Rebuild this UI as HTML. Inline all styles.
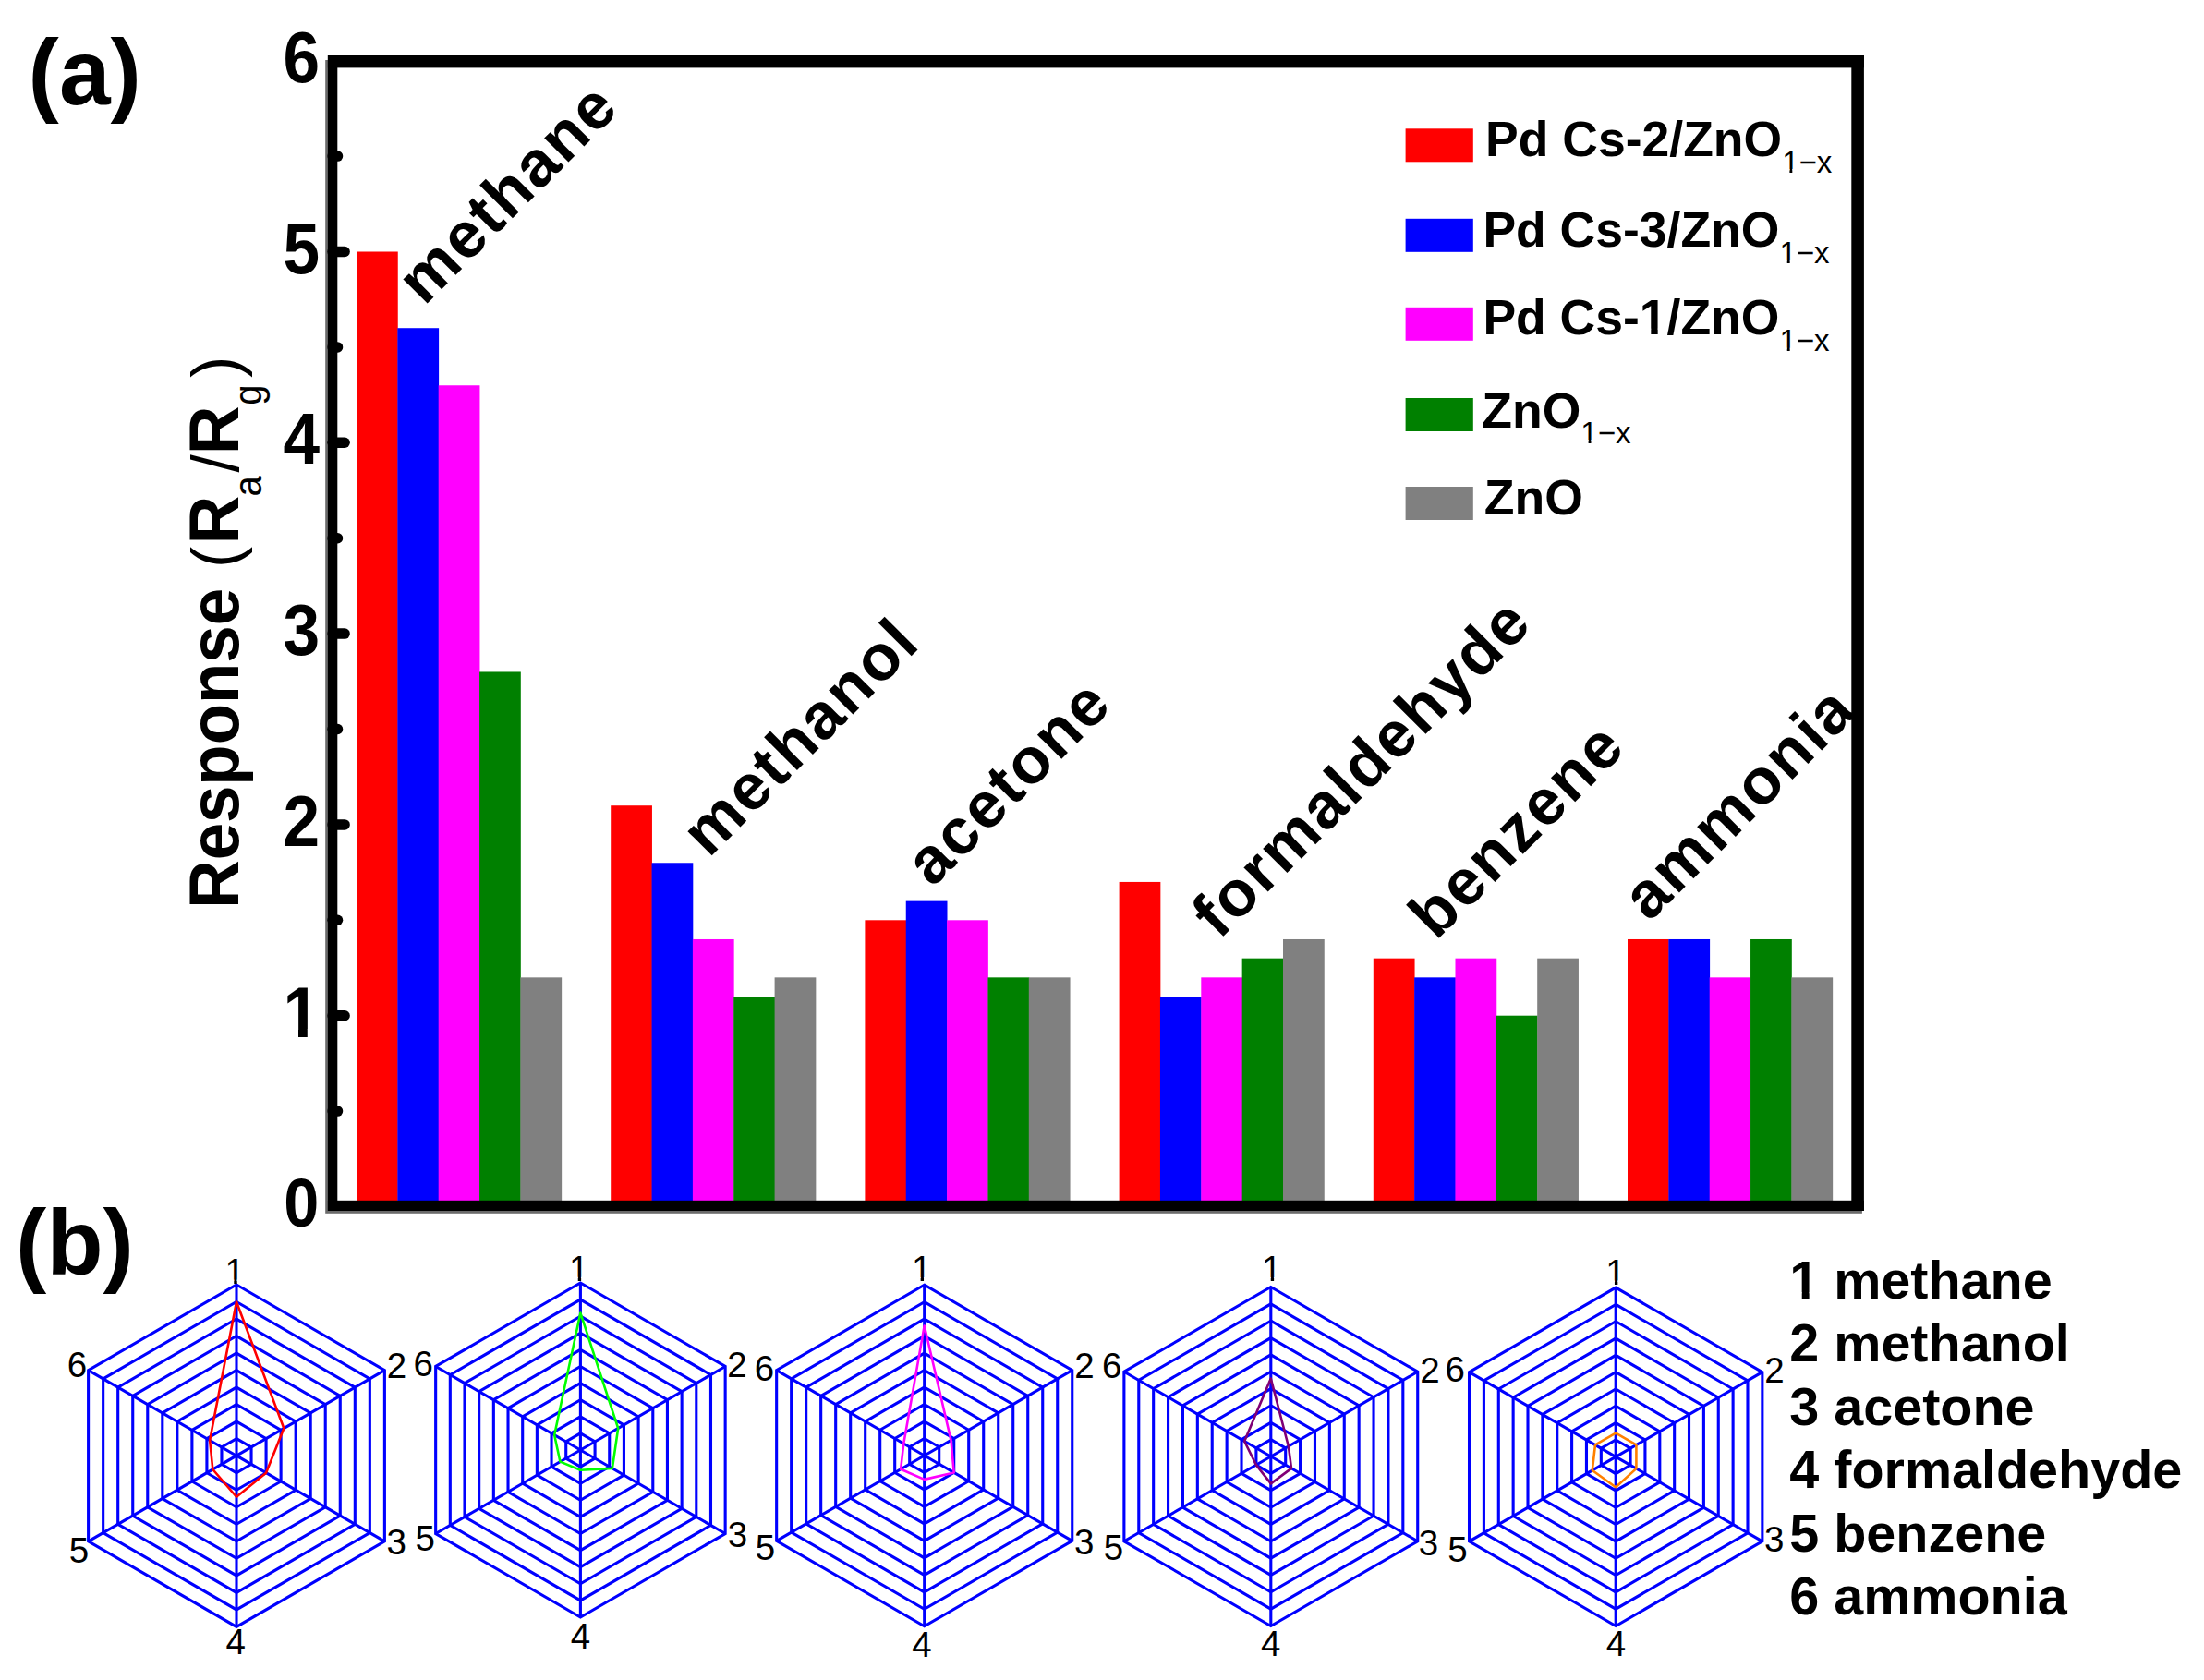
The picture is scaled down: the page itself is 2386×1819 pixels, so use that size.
<!DOCTYPE html>
<html><head><meta charset="utf-8"><title>Gas sensing response of Pd Cs/ZnO sensors</title>
<style>html,body{margin:0;padding:0;background:#fff;overflow:hidden}svg{display:block}</style></head>
<body><svg width="2386" height="1819" viewBox="0 0 2386 1819">
<defs><clipPath id="k1" clipPathUnits="userSpaceOnUse"><rect x="301.39" y="1037.23" width="71.23" height="77.00"/><rect x="323.01" y="1113.93" width="9.77" height="10.77"/></clipPath><clipPath id="k2" clipPathUnits="userSpaceOnUse"><rect x="1924.13" y="147.00" width="33.00" height="35.93"/><rect x="1937.42" y="182.63" width="2.92" height="5.97"/></clipPath><clipPath id="k3" clipPathUnits="userSpaceOnUse"><rect x="1921.43" y="245.10" width="33.00" height="35.93"/><rect x="1934.72" y="280.73" width="2.92" height="5.97"/></clipPath><clipPath id="k4" clipPathUnits="userSpaceOnUse"><rect x="1769.83" y="298.20" width="53.50" height="57.54"/><rect x="1787.32" y="355.44" width="7.34" height="8.96"/></clipPath><clipPath id="k5" clipPathUnits="userSpaceOnUse"><rect x="1921.43" y="340.80" width="33.00" height="35.93"/><rect x="1934.72" y="376.43" width="2.92" height="5.97"/></clipPath><clipPath id="k6" clipPathUnits="userSpaceOnUse"><rect x="1706.27" y="440.10" width="33.00" height="35.93"/><rect x="1719.57" y="475.73" width="2.92" height="5.97"/></clipPath><clipPath id="k7" clipPathUnits="userSpaceOnUse"><rect x="238.61" y="1343.39" width="38.50" height="42.12"/><rect x="253.29" y="1385.22" width="3.40" height="6.38"/></clipPath><clipPath id="k8" clipPathUnits="userSpaceOnUse"><rect x="611.06" y="1340.54" width="38.50" height="42.12"/><rect x="625.74" y="1382.37" width="3.40" height="6.38"/></clipPath><clipPath id="k9" clipPathUnits="userSpaceOnUse"><rect x="981.96" y="1340.99" width="38.50" height="42.12"/><rect x="996.64" y="1382.82" width="3.40" height="6.38"/></clipPath><clipPath id="k10" clipPathUnits="userSpaceOnUse"><rect x="1361.06" y="1340.94" width="38.50" height="42.12"/><rect x="1375.74" y="1382.77" width="3.40" height="6.38"/></clipPath><clipPath id="k11" clipPathUnits="userSpaceOnUse"><rect x="1733.26" y="1344.44" width="38.50" height="42.12"/><rect x="1747.94" y="1386.27" width="3.40" height="6.38"/></clipPath><clipPath id="k12" clipPathUnits="userSpaceOnUse"><rect x="1932.30" y="1337.20" width="57.50" height="61.93"/><rect x="1950.72" y="1398.83" width="7.89" height="9.37"/></clipPath></defs>
<rect width="2386" height="1819" fill="#fff"/>
<g><rect x="386.00" y="272.50" width="44.75" height="1034.00" fill="#ff0000"/><rect x="430.35" y="355.22" width="44.75" height="951.28" fill="#0000ff"/><rect x="474.70" y="417.26" width="44.75" height="889.24" fill="#ff00ff"/><rect x="519.05" y="727.46" width="44.75" height="579.04" fill="#008000"/><rect x="563.40" y="1058.34" width="44.75" height="248.16" fill="#808080"/><rect x="661.20" y="872.22" width="44.75" height="434.28" fill="#ff0000"/><rect x="705.55" y="934.26" width="44.75" height="372.24" fill="#0000ff"/><rect x="749.90" y="1016.98" width="44.75" height="289.52" fill="#ff00ff"/><rect x="794.25" y="1079.02" width="44.75" height="227.48" fill="#008000"/><rect x="838.60" y="1058.34" width="44.75" height="248.16" fill="#808080"/><rect x="936.40" y="996.30" width="44.75" height="310.20" fill="#ff0000"/><rect x="980.75" y="975.62" width="44.75" height="330.88" fill="#0000ff"/><rect x="1025.10" y="996.30" width="44.75" height="310.20" fill="#ff00ff"/><rect x="1069.45" y="1058.34" width="44.75" height="248.16" fill="#008000"/><rect x="1113.80" y="1058.34" width="44.75" height="248.16" fill="#808080"/><rect x="1211.60" y="954.94" width="44.75" height="351.56" fill="#ff0000"/><rect x="1255.95" y="1079.02" width="44.75" height="227.48" fill="#0000ff"/><rect x="1300.30" y="1058.34" width="44.75" height="248.16" fill="#ff00ff"/><rect x="1344.65" y="1037.66" width="44.75" height="268.84" fill="#008000"/><rect x="1389.00" y="1016.98" width="44.75" height="289.52" fill="#808080"/><rect x="1486.80" y="1037.66" width="44.75" height="268.84" fill="#ff0000"/><rect x="1531.15" y="1058.34" width="44.75" height="248.16" fill="#0000ff"/><rect x="1575.50" y="1037.66" width="44.75" height="268.84" fill="#ff00ff"/><rect x="1619.85" y="1099.70" width="44.75" height="206.80" fill="#008000"/><rect x="1664.20" y="1037.66" width="44.75" height="268.84" fill="#808080"/><rect x="1762.00" y="1016.98" width="44.75" height="289.52" fill="#ff0000"/><rect x="1806.35" y="1016.98" width="44.75" height="289.52" fill="#0000ff"/><rect x="1850.70" y="1058.34" width="44.75" height="248.16" fill="#ff00ff"/><rect x="1895.05" y="1016.98" width="44.75" height="289.52" fill="#008000"/><rect x="1939.40" y="1058.34" width="44.75" height="248.16" fill="#808080"/></g>
<g><rect x="352.2" y="65" width="2.8" height="1248.8" fill="#6b6b6b"/><rect x="354.9" y="60.0" width="1663.0" height="13.4" fill="#000"/><rect x="354.9" y="60.0" width="10.4" height="1251.0" fill="#000"/><rect x="2004.3" y="60.0" width="13.6" height="1251.0" fill="#000"/><rect x="354.9" y="1299.8" width="1663.0" height="11.2" fill="#000"/><rect x="354.9" y="1311.0" width="1661.0" height="2.8" fill="#6b6b6b"/></g>
<g stroke="#000" stroke-width="11.5" stroke-linecap="round"><line x1="360.1" y1="1203.10" x2="365.5" y2="1203.10"/><line x1="360.1" y1="1099.70" x2="373.1" y2="1099.70"/><line x1="360.1" y1="996.30" x2="365.5" y2="996.30"/><line x1="360.1" y1="892.90" x2="373.1" y2="892.90"/><line x1="360.1" y1="789.50" x2="365.5" y2="789.50"/><line x1="360.1" y1="686.10" x2="373.1" y2="686.10"/><line x1="360.1" y1="582.70" x2="365.5" y2="582.70"/><line x1="360.1" y1="479.30" x2="373.1" y2="479.30"/><line x1="360.1" y1="375.90" x2="365.5" y2="375.90"/><line x1="360.1" y1="272.50" x2="373.1" y2="272.50"/><line x1="360.1" y1="169.10" x2="365.5" y2="169.10"/></g>
<text transform="translate(345.2,1327.80) scale(0.925,1)" text-anchor="end" style="font-family:'Liberation Sans',Arial,sans-serif;font-weight:bold;font-size:74px">0</text>
<g clip-path="url(#k1)"><text transform="translate(306.39,1122.70) scale(0.925,1)" style="font-family:'Liberation Sans',Arial,sans-serif;font-weight:bold;font-size:77px">1</text></g>
<text transform="translate(346,915.90) scale(0.925,1)" text-anchor="end" style="font-family:'Liberation Sans',Arial,sans-serif;font-weight:bold;font-size:77px">2</text>
<text transform="translate(346,709.10) scale(0.925,1)" text-anchor="end" style="font-family:'Liberation Sans',Arial,sans-serif;font-weight:bold;font-size:77px">3</text>
<text transform="translate(346,502.30) scale(0.925,1)" text-anchor="end" style="font-family:'Liberation Sans',Arial,sans-serif;font-weight:bold;font-size:77px">4</text>
<text transform="translate(346,295.50) scale(0.925,1)" text-anchor="end" style="font-family:'Liberation Sans',Arial,sans-serif;font-weight:bold;font-size:77px">5</text>
<text transform="translate(346,88.70) scale(0.925,1)" text-anchor="end" style="font-family:'Liberation Sans',Arial,sans-serif;font-weight:bold;font-size:77px">6</text>
<g transform="translate(258.0,0) rotate(-90) scale(0.955,1)"><text x="-1030.12" y="0" style="font-family:'Liberation Sans',Arial,sans-serif;font-weight:bold;font-size:76px;white-space:pre">Response </text><text x="-643.98" y="0" style="font-family:'Liberation Sans',Arial,sans-serif;font-weight:normal;font-size:73px;white-space:pre">(</text><text x="-616.96" y="0" style="font-family:'Liberation Sans',Arial,sans-serif;font-weight:bold;font-size:76px;white-space:pre">R</text><text x="-562.72" y="24.5" style="font-family:'Liberation Sans',Arial,sans-serif;font-weight:normal;font-size:42px;white-space:pre">a</text><text x="-535.50" y="0" style="font-family:'Liberation Sans',Arial,sans-serif;font-weight:normal;font-size:73px;white-space:pre">/</text><text x="-515.18" y="0" style="font-family:'Liberation Sans',Arial,sans-serif;font-weight:bold;font-size:76px;white-space:pre">R</text><text x="-459.48" y="24.5" style="font-family:'Liberation Sans',Arial,sans-serif;font-weight:normal;font-size:42px;white-space:pre">g</text><text x="-428.27" y="0" style="font-family:'Liberation Sans',Arial,sans-serif;font-weight:normal;font-size:73px;white-space:pre">)</text></g>
<text transform="translate(459.2,331.9) rotate(-45)" style="font-family:'Liberation Sans',Arial,sans-serif;font-weight:bold;font-size:70px;letter-spacing:2px">methane</text>
<text transform="translate(767.2,929.8) rotate(-45)" style="font-family:'Liberation Sans',Arial,sans-serif;font-weight:bold;font-size:70px;letter-spacing:2px">methanol</text>
<text transform="translate(1009.5,961.7) rotate(-45)" style="font-family:'Liberation Sans',Arial,sans-serif;font-weight:bold;font-size:70px;letter-spacing:2px">acetone</text>
<text transform="translate(1319.7,1018.6) rotate(-45)" style="font-family:'Liberation Sans',Arial,sans-serif;font-weight:bold;font-size:70px;letter-spacing:2px">formaldehyde</text>
<text transform="translate(1554.5,1019.0) rotate(-45)" style="font-family:'Liberation Sans',Arial,sans-serif;font-weight:bold;font-size:70px;letter-spacing:2px">benzene</text>
<text transform="translate(1785.6,999.0) rotate(-45)" style="font-family:'Liberation Sans',Arial,sans-serif;font-weight:bold;font-size:70px;letter-spacing:2px">ammonia</text>
<rect x="1521.6" y="139.3" width="73.2" height="36.0" fill="#ff0000"/>
<text x="1608.1" y="168.6" style="font-family:'Liberation Sans',Arial,sans-serif;font-weight:bold;font-size:53.5px">Pd Cs-2/ZnO</text>
<text x="1929.13" y="186.60" clip-path="url(#k2)" style="font-family:'Liberation Sans',Arial,sans-serif;font-weight:normal;font-size:33px">1</text>
<text x="1947.48" y="186.60" style="font-family:'Liberation Sans',Arial,sans-serif;font-weight:normal;font-size:33px">−x</text>
<rect x="1521.6" y="236.8" width="73.2" height="36.0" fill="#0000ff"/>
<text x="1605.4" y="266.7" style="font-family:'Liberation Sans',Arial,sans-serif;font-weight:bold;font-size:53.5px">Pd Cs-3/ZnO</text>
<text x="1926.43" y="284.70" clip-path="url(#k3)" style="font-family:'Liberation Sans',Arial,sans-serif;font-weight:normal;font-size:33px">1</text>
<text x="1944.78" y="284.70" style="font-family:'Liberation Sans',Arial,sans-serif;font-weight:normal;font-size:33px">−x</text>
<rect x="1521.6" y="332.8" width="73.2" height="36.0" fill="#ff00ff"/>
<text x="1605.4" y="362.4" style="font-family:'Liberation Sans',Arial,sans-serif;font-weight:bold;font-size:53.5px;white-space:pre">Pd Cs-</text>
<text x="1774.83" y="362.4" clip-path="url(#k4)" style="font-family:'Liberation Sans',Arial,sans-serif;font-weight:bold;font-size:53.5px">1</text>
<text x="1804.59" y="362.4" style="font-family:'Liberation Sans',Arial,sans-serif;font-weight:bold;font-size:53.5px">/ZnO</text>
<text x="1926.43" y="380.40" clip-path="url(#k5)" style="font-family:'Liberation Sans',Arial,sans-serif;font-weight:normal;font-size:33px">1</text>
<text x="1944.78" y="380.40" style="font-family:'Liberation Sans',Arial,sans-serif;font-weight:normal;font-size:33px">−x</text>
<rect x="1521.6" y="431.0" width="73.2" height="36.0" fill="#008000"/>
<text x="1604.3" y="462.7" style="font-family:'Liberation Sans',Arial,sans-serif;font-weight:bold;font-size:53.5px">ZnO</text>
<text x="1711.27" y="479.70" clip-path="url(#k6)" style="font-family:'Liberation Sans',Arial,sans-serif;font-weight:normal;font-size:33px">1</text>
<text x="1729.63" y="479.70" style="font-family:'Liberation Sans',Arial,sans-serif;font-weight:normal;font-size:33px">−x</text>
<rect x="1521.6" y="527.0" width="73.2" height="36.0" fill="#808080"/>
<text x="1606.8" y="556.5" style="font-family:'Liberation Sans',Arial,sans-serif;font-weight:bold;font-size:53.5px">ZnO</text>
<text x="30.6" y="113" style="font-family:'Liberation Sans',Arial,sans-serif;font-weight:bold;font-size:100px">(a)</text>
<text x="17.1" y="1380.4" style="font-family:'Liberation Sans',Arial,sans-serif;font-weight:bold;font-size:100px">(b)</text>
<g fill="none" stroke="#0000ff" stroke-width="3.1"><polygon points="256.00,1557.68 272.04,1566.94 272.04,1585.46 256.00,1594.72 239.96,1585.46 239.96,1566.94"/><polygon points="256.00,1539.16 288.08,1557.68 288.08,1594.72 256.00,1613.24 223.92,1594.72 223.92,1557.68"/><polygon points="256.00,1520.64 304.12,1548.42 304.12,1603.98 256.00,1631.76 207.88,1603.98 207.88,1548.42"/><polygon points="256.00,1502.12 320.16,1539.16 320.16,1613.24 256.00,1650.28 191.84,1613.24 191.84,1539.16"/><polygon points="256.00,1483.60 336.19,1529.90 336.19,1622.50 256.00,1668.80 175.81,1622.50 175.81,1529.90"/><polygon points="256.00,1465.08 352.23,1520.64 352.23,1631.76 256.00,1687.32 159.77,1631.76 159.77,1520.64"/><polygon points="256.00,1446.56 368.27,1511.38 368.27,1641.02 256.00,1705.84 143.73,1641.02 143.73,1511.38"/><polygon points="256.00,1428.04 384.31,1502.12 384.31,1650.28 256.00,1724.36 127.69,1650.28 127.69,1502.12"/><polygon points="256.00,1409.52 400.35,1492.86 400.35,1659.54 256.00,1742.88 111.65,1659.54 111.65,1492.86"/><polygon points="256.00,1391.00 416.39,1483.60 416.39,1668.80 256.00,1761.40 95.61,1668.80 95.61,1483.60"/><line x1="256.00" y1="1576.20" x2="256.00" y2="1391.00"/><line x1="256.00" y1="1576.20" x2="416.39" y2="1483.60"/><line x1="256.00" y1="1576.20" x2="416.39" y2="1668.80"/><line x1="256.00" y1="1576.20" x2="256.00" y2="1761.40"/><line x1="256.00" y1="1576.20" x2="95.61" y2="1668.80"/><line x1="256.00" y1="1576.20" x2="95.61" y2="1483.60"/></g>
<polygon points="256.00,1409.52 307.32,1546.57 288.08,1594.72 256.00,1620.65 230.34,1591.02 227.13,1559.53" fill="none" stroke="#ff0000" stroke-width="2.6" stroke-linejoin="round"/>
<text x="243.61" y="1389.59" clip-path="url(#k7)" style="font-family:'Liberation Sans',Arial,sans-serif;font-weight:normal;font-size:38.5px">1</text>
<text x="418.64" y="1492.09" style="font-family:'Liberation Sans',Arial,sans-serif;font-weight:normal;font-size:38.5px">2</text>
<text x="418.41" y="1682.95" style="font-family:'Liberation Sans',Arial,sans-serif;font-weight:normal;font-size:38.5px">3</text>
<text x="244.42" y="1790.64" style="font-family:'Liberation Sans',Arial,sans-serif;font-weight:normal;font-size:38.5px">4</text>
<text x="74.68" y="1691.71" style="font-family:'Liberation Sans',Arial,sans-serif;font-weight:normal;font-size:38.5px">5</text>
<text x="72.81" y="1490.65" style="font-family:'Liberation Sans',Arial,sans-serif;font-weight:normal;font-size:38.5px">6</text>
<g fill="none" stroke="#0000ff" stroke-width="3.1"><polygon points="628.40,1551.90 644.08,1560.95 644.08,1579.05 628.40,1588.10 612.72,1579.05 612.72,1560.95"/><polygon points="628.40,1533.80 659.75,1551.90 659.75,1588.10 628.40,1606.20 597.05,1588.10 597.05,1551.90"/><polygon points="628.40,1515.70 675.43,1542.85 675.43,1597.15 628.40,1624.30 581.37,1597.15 581.37,1542.85"/><polygon points="628.40,1497.60 691.10,1533.80 691.10,1606.20 628.40,1642.40 565.70,1606.20 565.70,1533.80"/><polygon points="628.40,1479.50 706.78,1524.75 706.78,1615.25 628.40,1660.50 550.02,1615.25 550.02,1524.75"/><polygon points="628.40,1461.40 722.45,1515.70 722.45,1624.30 628.40,1678.60 534.35,1624.30 534.35,1515.70"/><polygon points="628.40,1443.30 738.13,1506.65 738.13,1633.35 628.40,1696.70 518.67,1633.35 518.67,1506.65"/><polygon points="628.40,1425.20 753.80,1497.60 753.80,1642.40 628.40,1714.80 503.00,1642.40 503.00,1497.60"/><polygon points="628.40,1407.10 769.48,1488.55 769.48,1651.45 628.40,1732.90 487.32,1651.45 487.32,1488.55"/><polygon points="628.40,1389.00 785.15,1479.50 785.15,1660.50 628.40,1751.00 471.65,1660.50 471.65,1479.50"/><line x1="628.40" y1="1570.00" x2="628.40" y2="1389.00"/><line x1="628.40" y1="1570.00" x2="785.15" y2="1479.50"/><line x1="628.40" y1="1570.00" x2="785.15" y2="1660.50"/><line x1="628.40" y1="1570.00" x2="628.40" y2="1751.00"/><line x1="628.40" y1="1570.00" x2="471.65" y2="1660.50"/><line x1="628.40" y1="1570.00" x2="471.65" y2="1479.50"/></g>
<polygon points="628.40,1421.58 669.16,1546.47 662.89,1589.91 628.40,1591.72 606.45,1582.67 600.18,1553.71" fill="none" stroke="#00ff00" stroke-width="2.6" stroke-linejoin="round"/>
<text x="616.06" y="1386.74" clip-path="url(#k8)" style="font-family:'Liberation Sans',Arial,sans-serif;font-weight:normal;font-size:38.5px">1</text>
<text x="787.19" y="1490.64" style="font-family:'Liberation Sans',Arial,sans-serif;font-weight:normal;font-size:38.5px">2</text>
<text x="787.66" y="1675.10" style="font-family:'Liberation Sans',Arial,sans-serif;font-weight:normal;font-size:38.5px">3</text>
<text x="617.87" y="1785.14" style="font-family:'Liberation Sans',Arial,sans-serif;font-weight:normal;font-size:38.5px">4</text>
<text x="449.58" y="1679.06" style="font-family:'Liberation Sans',Arial,sans-serif;font-weight:normal;font-size:38.5px">5</text>
<text x="447.56" y="1490.45" style="font-family:'Liberation Sans',Arial,sans-serif;font-weight:normal;font-size:38.5px">6</text>
<g fill="none" stroke="#0000ff" stroke-width="3.1"><polygon points="1000.70,1557.52 1016.70,1566.76 1016.70,1585.24 1000.70,1594.48 984.70,1585.24 984.70,1566.76"/><polygon points="1000.70,1539.04 1032.71,1557.52 1032.71,1594.48 1000.70,1612.96 968.69,1594.48 968.69,1557.52"/><polygon points="1000.70,1520.56 1048.71,1548.28 1048.71,1603.72 1000.70,1631.44 952.69,1603.72 952.69,1548.28"/><polygon points="1000.70,1502.08 1064.72,1539.04 1064.72,1612.96 1000.70,1649.92 936.68,1612.96 936.68,1539.04"/><polygon points="1000.70,1483.60 1080.72,1529.80 1080.72,1622.20 1000.70,1668.40 920.68,1622.20 920.68,1529.80"/><polygon points="1000.70,1465.12 1096.72,1520.56 1096.72,1631.44 1000.70,1686.88 904.68,1631.44 904.68,1520.56"/><polygon points="1000.70,1446.64 1112.73,1511.32 1112.73,1640.68 1000.70,1705.36 888.67,1640.68 888.67,1511.32"/><polygon points="1000.70,1428.16 1128.73,1502.08 1128.73,1649.92 1000.70,1723.84 872.67,1649.92 872.67,1502.08"/><polygon points="1000.70,1409.68 1144.74,1492.84 1144.74,1659.16 1000.70,1742.32 856.66,1659.16 856.66,1492.84"/><polygon points="1000.70,1391.20 1160.74,1483.60 1160.74,1668.40 1000.70,1760.80 840.66,1668.40 840.66,1483.60"/><line x1="1000.70" y1="1576.00" x2="1000.70" y2="1391.20"/><line x1="1000.70" y1="1576.00" x2="1160.74" y2="1483.60"/><line x1="1000.70" y1="1576.00" x2="1160.74" y2="1668.40"/><line x1="1000.70" y1="1576.00" x2="1000.70" y2="1760.80"/><line x1="1000.70" y1="1576.00" x2="840.66" y2="1668.40"/><line x1="1000.70" y1="1576.00" x2="840.66" y2="1483.60"/></g>
<polygon points="1000.70,1435.55 1029.51,1559.37 1032.71,1594.48 1000.70,1601.87 975.09,1590.78 978.29,1563.06" fill="none" stroke="#ff00ff" stroke-width="2.6" stroke-linejoin="round"/>
<text x="986.96" y="1387.19" clip-path="url(#k9)" style="font-family:'Liberation Sans',Arial,sans-serif;font-weight:normal;font-size:38.5px">1</text>
<text x="1163.29" y="1492.09" style="font-family:'Liberation Sans',Arial,sans-serif;font-weight:normal;font-size:38.5px">2</text>
<text x="1163.06" y="1683.30" style="font-family:'Liberation Sans',Arial,sans-serif;font-weight:normal;font-size:38.5px">3</text>
<text x="987.32" y="1793.54" style="font-family:'Liberation Sans',Arial,sans-serif;font-weight:normal;font-size:38.5px">4</text>
<text x="817.73" y="1689.46" style="font-family:'Liberation Sans',Arial,sans-serif;font-weight:normal;font-size:38.5px">5</text>
<text x="816.81" y="1494.50" style="font-family:'Liberation Sans',Arial,sans-serif;font-weight:normal;font-size:38.5px">6</text>
<g fill="none" stroke="#0000ff" stroke-width="3.1"><polygon points="1375.80,1558.65 1391.69,1567.83 1391.69,1586.17 1375.80,1595.35 1359.91,1586.17 1359.91,1567.83"/><polygon points="1375.80,1540.30 1407.58,1558.65 1407.58,1595.35 1375.80,1613.70 1344.02,1595.35 1344.02,1558.65"/><polygon points="1375.80,1521.95 1423.47,1549.47 1423.47,1604.53 1375.80,1632.05 1328.13,1604.53 1328.13,1549.47"/><polygon points="1375.80,1503.60 1439.37,1540.30 1439.37,1613.70 1375.80,1650.40 1312.23,1613.70 1312.23,1540.30"/><polygon points="1375.80,1485.25 1455.26,1531.12 1455.26,1622.88 1375.80,1668.75 1296.34,1622.88 1296.34,1531.12"/><polygon points="1375.80,1466.90 1471.15,1521.95 1471.15,1632.05 1375.80,1687.10 1280.45,1632.05 1280.45,1521.95"/><polygon points="1375.80,1448.55 1487.04,1512.78 1487.04,1641.22 1375.80,1705.45 1264.56,1641.22 1264.56,1512.78"/><polygon points="1375.80,1430.20 1502.93,1503.60 1502.93,1650.40 1375.80,1723.80 1248.67,1650.40 1248.67,1503.60"/><polygon points="1375.80,1411.85 1518.82,1494.42 1518.82,1659.58 1375.80,1742.15 1232.78,1659.58 1232.78,1494.42"/><polygon points="1375.80,1393.50 1534.72,1485.25 1534.72,1668.75 1375.80,1760.50 1216.88,1668.75 1216.88,1485.25"/><line x1="1375.80" y1="1577.00" x2="1375.80" y2="1393.50"/><line x1="1375.80" y1="1577.00" x2="1534.72" y2="1485.25"/><line x1="1375.80" y1="1577.00" x2="1534.72" y2="1668.75"/><line x1="1375.80" y1="1577.00" x2="1375.80" y2="1760.50"/><line x1="1375.80" y1="1577.00" x2="1216.88" y2="1668.75"/><line x1="1375.80" y1="1577.00" x2="1216.88" y2="1485.25"/></g>
<polygon points="1375.80,1492.59 1394.87,1565.99 1398.05,1589.85 1375.80,1606.36 1359.91,1586.17 1347.20,1560.48" fill="none" stroke="#800075" stroke-width="2.6" stroke-linejoin="round"/>
<text x="1366.06" y="1387.14" clip-path="url(#k10)" style="font-family:'Liberation Sans',Arial,sans-serif;font-weight:normal;font-size:38.5px">1</text>
<text x="1537.19" y="1497.34" style="font-family:'Liberation Sans',Arial,sans-serif;font-weight:normal;font-size:38.5px">2</text>
<text x="1535.81" y="1683.70" style="font-family:'Liberation Sans',Arial,sans-serif;font-weight:normal;font-size:38.5px">3</text>
<text x="1365.07" y="1793.24" style="font-family:'Liberation Sans',Arial,sans-serif;font-weight:normal;font-size:38.5px">4</text>
<text x="1194.63" y="1689.46" style="font-family:'Liberation Sans',Arial,sans-serif;font-weight:normal;font-size:38.5px">5</text>
<text x="1192.96" y="1491.50" style="font-family:'Liberation Sans',Arial,sans-serif;font-weight:normal;font-size:38.5px">6</text>
<g fill="none" stroke="#0000ff" stroke-width="3.1"><polygon points="1749.20,1558.98 1765.07,1568.14 1765.07,1586.46 1749.20,1595.62 1733.33,1586.46 1733.33,1568.14"/><polygon points="1749.20,1540.66 1780.93,1558.98 1780.93,1595.62 1749.20,1613.94 1717.47,1595.62 1717.47,1558.98"/><polygon points="1749.20,1522.34 1796.80,1549.82 1796.80,1604.78 1749.20,1632.26 1701.60,1604.78 1701.60,1549.82"/><polygon points="1749.20,1504.02 1812.66,1540.66 1812.66,1613.94 1749.20,1650.58 1685.74,1613.94 1685.74,1540.66"/><polygon points="1749.20,1485.70 1828.53,1531.50 1828.53,1623.10 1749.20,1668.90 1669.87,1623.10 1669.87,1531.50"/><polygon points="1749.20,1467.38 1844.39,1522.34 1844.39,1632.26 1749.20,1687.22 1654.01,1632.26 1654.01,1522.34"/><polygon points="1749.20,1449.06 1860.26,1513.18 1860.26,1641.42 1749.20,1705.54 1638.14,1641.42 1638.14,1513.18"/><polygon points="1749.20,1430.74 1876.12,1504.02 1876.12,1650.58 1749.20,1723.86 1622.28,1650.58 1622.28,1504.02"/><polygon points="1749.20,1412.42 1891.99,1494.86 1891.99,1659.74 1749.20,1742.18 1606.41,1659.74 1606.41,1494.86"/><polygon points="1749.20,1394.10 1907.86,1485.70 1907.86,1668.90 1749.20,1760.50 1590.54,1668.90 1590.54,1485.70"/><line x1="1749.20" y1="1577.30" x2="1749.20" y2="1394.10"/><line x1="1749.20" y1="1577.30" x2="1907.86" y2="1485.70"/><line x1="1749.20" y1="1577.30" x2="1907.86" y2="1668.90"/><line x1="1749.20" y1="1577.30" x2="1749.20" y2="1760.50"/><line x1="1749.20" y1="1577.30" x2="1590.54" y2="1668.90"/><line x1="1749.20" y1="1577.30" x2="1590.54" y2="1485.70"/></g>
<polygon points="1749.20,1551.65 1771.41,1564.48 1771.41,1590.12 1749.20,1610.28 1723.82,1591.96 1726.99,1564.48" fill="none" stroke="#ff8000" stroke-width="2.6" stroke-linejoin="round"/>
<text x="1738.26" y="1390.64" clip-path="url(#k11)" style="font-family:'Liberation Sans',Arial,sans-serif;font-weight:normal;font-size:38.5px">1</text>
<text x="1910.24" y="1496.59" style="font-family:'Liberation Sans',Arial,sans-serif;font-weight:normal;font-size:38.5px">2</text>
<text x="1910.01" y="1680.35" style="font-family:'Liberation Sans',Arial,sans-serif;font-weight:normal;font-size:38.5px">3</text>
<text x="1738.67" y="1793.14" style="font-family:'Liberation Sans',Arial,sans-serif;font-weight:normal;font-size:38.5px">4</text>
<text x="1567.33" y="1690.91" style="font-family:'Liberation Sans',Arial,sans-serif;font-weight:normal;font-size:38.5px">5</text>
<text x="1564.61" y="1496.40" style="font-family:'Liberation Sans',Arial,sans-serif;font-weight:normal;font-size:38.5px">6</text>
<text x="1937.3" y="1406.2" clip-path="url(#k12)" style="font-family:'Liberation Sans',Arial,sans-serif;font-weight:bold;font-size:57.5px">1</text>
<text x="1969.28" y="1406.2" style="font-family:'Liberation Sans',Arial,sans-serif;font-weight:bold;font-size:57.5px;white-space:pre"> methane</text>
<text x="1937.3" y="1474.2" style="font-family:'Liberation Sans',Arial,sans-serif;font-weight:bold;font-size:57.5px">2 methanol</text>
<text x="1937.3" y="1543.2" style="font-family:'Liberation Sans',Arial,sans-serif;font-weight:bold;font-size:57.5px">3 acetone</text>
<text x="1937.3" y="1610.8" style="font-family:'Liberation Sans',Arial,sans-serif;font-weight:bold;font-size:57.5px">4 formaldehyde</text>
<text x="1937.3" y="1680.1" style="font-family:'Liberation Sans',Arial,sans-serif;font-weight:bold;font-size:57.5px">5 benzene</text>
<text x="1937.3" y="1747.9" style="font-family:'Liberation Sans',Arial,sans-serif;font-weight:bold;font-size:57.5px">6 ammonia</text>
</svg></body></html>
